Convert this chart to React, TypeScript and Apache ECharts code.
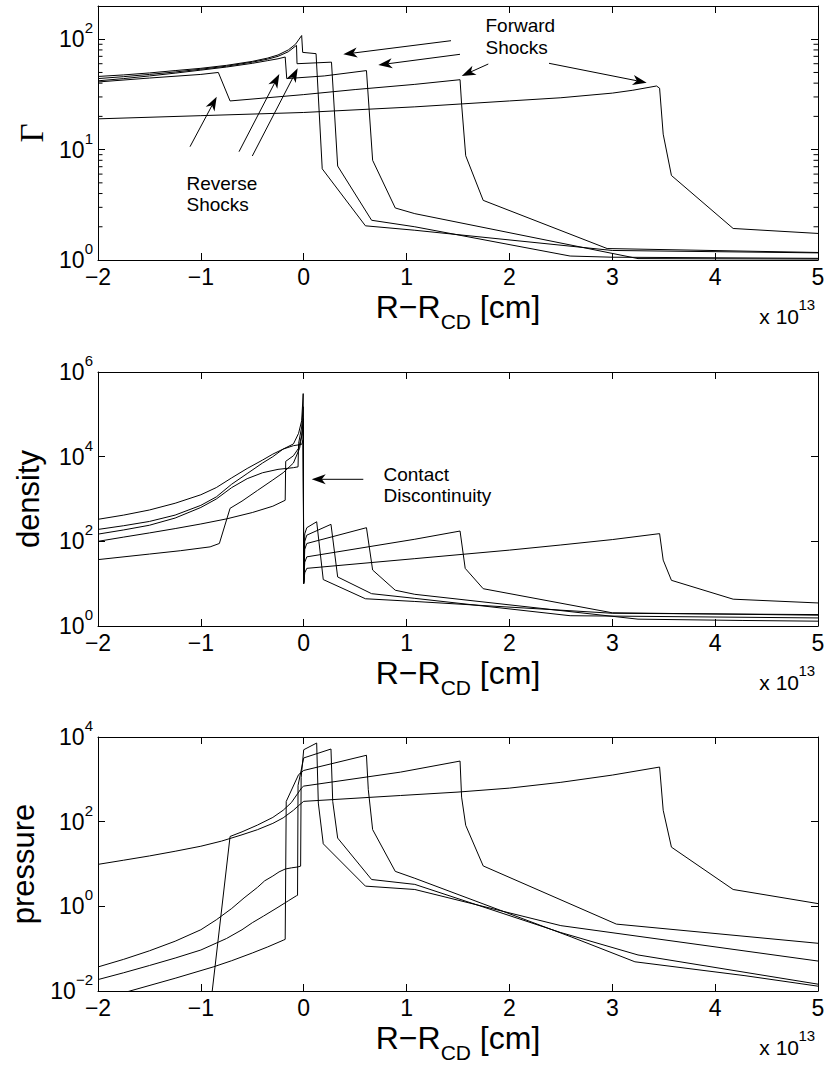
import React, { useEffect, useRef } from "react";
import * as echarts from "echarts";

type Pt = [number, number];

// ---------- axis ranges ----------
const xMin = -2;
const xMax = 5;
const xStep = 1;

// ---------- Lorentz factor Γ (five snapshots A..E) ----------
const gammaA: Pt[] = [[-2, 46], [-1.75, 47.5], [-1.5, 49.5], [-1.25, 52], [-1, 54.5], [-0.75, 58], [-0.5, 63], [-0.35, 67.5], [-0.25, 72], [-0.15, 80], [-0.08, 90], [-0.02, 108], [-0.01, 76], [0.12, 74], [0.18, 6.7], [0.6, 2.04], [1.08, 1.86], [3.0, 1.22], [5, 1.16]];
const gammaB: Pt[] = [[-2, 44], [-1.75, 45.8], [-1.5, 48], [-1.25, 50.5], [-1, 53.5], [-0.75, 57], [-0.5, 62], [-0.35, 66], [-0.25, 70], [-0.15, 77], [-0.07, 88], [-0.065, 60], [0.27, 62], [0.33, 7.1], [0.66, 2.29], [1.08, 2.0], [2.59, 1.086], [3.0, 1.06], [5, 1.035]];
const gammaC: Pt[] = [[-2, 42], [-1.75, 44], [-1.5, 46.5], [-1.25, 49.3], [-1, 52.5], [-0.75, 56], [-0.5, 60.5], [-0.35, 64], [-0.25, 66.5], [-0.18, 69], [-0.165, 44], [0.2, 46.5], [0.61, 52], [0.67, 8], [0.89, 2.96], [1.08, 2.63], [3.25, 1.03], [5, 1.02]];
const gammaD: Pt[] = [[-2, 41], [-1.5, 44.5], [-1, 48], [-0.83, 50], [-0.716, 27.6], [0, 31.5], [0.5, 35], [1.08, 39], [1.52, 43], [1.535, 25.8], [1.575, 8.8], [1.745, 3.47], [2.95, 1.27], [5, 1.17]];
const gammaE: Pt[] = [[-2, 19], [-1, 20.3], [0, 21.7], [1.08, 24.4], [2, 27.6], [2.5, 29.5], [3, 32.5], [3.2, 34.5], [3.43, 37.7], [3.46, 36], [3.495, 13.8], [3.575, 5.83], [4.175, 1.93], [5, 1.74]];

// ---------- density ----------
const densA: Pt[] = [[-2, 191], [-1.75, 234], [-1.5, 295], [-1.25, 417], [-1, 708], [-0.85, 1120], [-0.7, 2240], [-0.55, 3980], [-0.4, 7080], [-0.3, 10000], [-0.2, 15100], [-0.1, 20000], [-0.05, 35500], [-0.02, 70800], [-0.005, 309000], [0, 10], [0.01, 150], [0.03, 210], [0.126, 290], [0.19, 12.5], [0.6, 4.4], [1.08, 3.8], [3.0, 2.0], [5, 1.86]];
const densB: Pt[] = [[-2, 148], [-1.75, 186], [-1.5, 240], [-1.25, 355], [-1, 631], [-0.85, 1000], [-0.7, 1860], [-0.55, 3020], [-0.4, 4170], [-0.25, 5010], [-0.1, 5500], [-0.055, 5750], [-0.05, 20400], [-0.02, 50100], [-0.005, 151000], [0, 10.5], [0.01, 100], [0.03, 140], [0.265, 252], [0.33, 14.4], [0.66, 5.8], [1.08, 4.5], [2.59, 1.75], [5, 1.55]];
const densC: Pt[] = [[-2, 100], [-1.75, 126], [-1.5, 158], [-1.25, 200], [-1, 257], [-0.75, 339], [-0.5, 479], [-0.3, 676], [-0.18, 933], [-0.175, 7760], [-0.1, 10500], [-0.05, 15800], [-0.02, 31600], [-0.005, 79400], [0, 11], [0.01, 65], [0.03, 89], [0.61, 210], [0.67, 21], [0.89, 7], [1.08, 5.6], [3.25, 1.45], [4.27, 1.35], [5, 1.3]];
const densD: Pt[] = [[-2, 37], [-1.5, 50], [-1.2, 60], [-0.91, 74], [-0.82, 89], [-0.716, 603], [-0.6, 891], [-0.45, 1590], [-0.3, 2820], [-0.2, 4170], [-0.1, 7080], [-0.04, 15800], [-0.005, 50100], [0, 12], [0.01, 32], [0.03, 43], [1.08, 112], [1.52, 175], [1.57, 23], [1.745, 7.6], [3.0, 2.05], [5, 1.8]];
const densE: Pt[] = [[-2, 331], [-1.75, 417], [-1.5, 550], [-1.25, 794], [-1, 1260], [-0.85, 1860], [-0.7, 3160], [-0.55, 5250], [-0.4, 8320], [-0.3, 11500], [-0.2, 15100], [-0.1, 18200], [-0.02, 19500], [-0.005, 25000], [0, 10], [0.01, 18], [0.03, 23], [1.08, 39], [2, 62], [2.5, 82], [3, 110], [3.46, 152], [3.495, 36], [3.575, 12], [4.175, 4.3], [5, 3.5]];

// ---------- pressure ----------
const presA: Pt[] = [[-2, 0.037], [-1.75, 0.056], [-1.5, 0.089], [-1.25, 0.15], [-1, 0.28], [-0.85, 0.48], [-0.7, 0.89], [-0.58, 1.58], [-0.45, 2.8], [-0.38, 4.0], [-0.3, 5.2], [-0.24, 6.5], [-0.18, 7.6], [-0.12, 8.1], [-0.06, 8.5], [-0.03, 8.9], [-0.025, 1100], [0, 5000], [0.126, 7200], [0.142, 275], [0.19, 30], [0.6, 3.0], [1.08, 2.5], [2.5, 0.35], [5, 0.051]];
const presB: Pt[] = [[-2, 0.0186], [-1.75, 0.027], [-1.5, 0.04], [-1.25, 0.06], [-1, 0.093], [-0.75, 0.174], [-0.6, 0.28], [-0.5, 0.41], [-0.39, 0.59], [-0.25, 0.95], [-0.15, 1.35], [-0.07, 1.78], [-0.06, 1.82], [-0.055, 720], [0, 3200], [0.265, 5200], [0.282, 300], [0.33, 41], [0.66, 4.3], [1.08, 3.3], [2.5, 0.24], [3.25, 0.071], [5, 0.0145]];
const presC: Pt[] = [[-2, 0.006], [-1.69, 0.01], [-1.25, 0.02], [-0.88, 0.037], [-0.7, 0.052], [-0.5, 0.079], [-0.35, 0.11], [-0.2, 0.158], [-0.18, 0.166], [-0.17, 300], [-0.05, 1290], [0, 1620], [0.61, 3700], [0.628, 570], [0.67, 65], [0.89, 6.7], [1.08, 4.6], [2.6, 0.19], [3.22, 0.049], [4.29, 0.023], [5, 0.013]];
const presD: Pt[] = [[-2, 0.0001], [-0.93, 0.0014], [-0.716, 44.7], [-0.6, 57.5], [-0.45, 83], [-0.3, 126], [-0.2, 186], [-0.12, 282], [-0.06, 457], [-0.02, 631], [0, 692], [0.94, 1480], [1.52, 2700], [1.535, 380], [1.575, 82], [1.745, 9], [3.04, 0.38], [5, 0.134]];
const presE: Pt[] = [[-2, 9.8], [-1.75, 12.3], [-1.5, 15.5], [-1.25, 20], [-1, 26.3], [-0.8, 34.7], [-0.6, 49], [-0.45, 64.6], [-0.3, 91.2], [-0.2, 123], [-0.1, 186], [-0.05, 240], [0, 302], [0.94, 415], [1.5, 500], [2, 620], [2.5, 850], [3, 1260], [3.46, 1950], [3.495, 186], [3.575, 25], [4.175, 2.5], [5, 1.16]];

// minor ticks of the Γ panel (2..9 per decade)
const gammaMinorTicks = [2, 3, 4, 5, 6, 7, 8, 9, 20, 30, 40, 50, 60, 70, 80, 90];

// ---------- text ----------
const xAxisTitle = "{a|R−R}{s|CD}{a| [cm]}";
const xScaleText = "x 10";
const xScaleExp = "13";
const annotations = {
  forward: ["Forward", "Shocks"],
  reverse: ["Reverse", "Shocks"],
  contact: ["Contact", "Discontinuity"],
};

// ---------- layout / styles ----------
const SANS = '"Liberation Sans", Arial, Helvetica, sans-serif';
const SERIF = '"Liberation Serif", "DejaVu Serif", serif';
const GRID_LEFT = 98;
const GRID_W = 720;
const GRID_H = 254;
const GRID_TOPS = [6, 372, 737];

const panels = [
  { name: "Γ", nameFont: SERIF, nameSize: 33, nameGap: 50, min: 1, max: 200, logBase: 10, minor: gammaMinorTicks, series: [gammaA, gammaB, gammaC, gammaD, gammaE] },
  { name: "density", nameFont: SANS, nameSize: 31, nameGap: 54, min: 1, max: 1e6, logBase: 100, minor: null, series: [densA, densB, densC, densD, densE] },
  { name: "pressure", nameFont: SANS, nameSize: 31, nameGap: 59, min: 0.01, max: 1e4, logBase: 100, minor: null, series: [presA, presB, presC, presD, presE] },
];

const black = { color: "#000", width: 1 };

function fmtX(v: number) {
  return v < 0 ? "−" + Math.abs(v) : String(v);
}
function fmtY(v: number) {
  const l = Math.log10(v);
  const e = Math.round(l);
  if (Math.abs(l - e) > 1e-6) return "";
  return `{b|10}{e|${e < 0 ? "−" + -e : e}}`;
}

function arrow(tx: number, ty: number, hx: number, hy: number) {
  const dx = hx - tx;
  const dy = hy - ty;
  const len = Math.hypot(dx, dy);
  const ux = dx / len;
  const uy = dy / len;
  const nx = -uy;
  const ny = ux;
  const L = 14;
  const W = 5;
  const bx = hx - ux * L;
  const by = hy - uy * L;
  const mx = hx - ux * L * 0.72;
  const my = hy - uy * L * 0.72;
  return [
    { type: "line", silent: true, shape: { x1: tx, y1: ty, x2: mx, y2: my }, style: { stroke: "#000", lineWidth: 1 } },
    {
      type: "polygon",
      silent: true,
      shape: { points: [[hx, hy], [bx + nx * W, by + ny * W], [mx, my], [bx - nx * W, by - ny * W]] },
      style: { fill: "#000" },
    },
  ];
}

function text(str: string, x: number, y: number, size: number, align: string) {
  return {
    type: "text",
    silent: true,
    x,
    y,
    style: {
      text: str,
      fontSize: size,
      fontFamily: SANS,
      fill: "#000",
      align,
      textAlign: align,
      verticalAlign: "middle",
      textVerticalAlign: "middle",
    },
  };
}

function buildOption() {
  const grid: any[] = [];
  const xAxis: any[] = [];
  const yAxis: any[] = [];
  const series: any[] = [];
  const graphic: any[] = [];

  panels.forEach((p, i) => {
    const top = GRID_TOPS[i];
    const bottom = top + GRID_H;
    grid.push({ left: GRID_LEFT, top, width: GRID_W, height: GRID_H, outerBoundsMode: "none", containLabel: false });

    const xi = xAxis.length;
    xAxis.push({
      gridIndex: i,
      type: "value",
      position: "bottom",
      min: xMin,
      max: xMax,
      interval: xStep,
      axisLine: { show: true, onZero: false, lineStyle: black },
      axisTick: { show: true, inside: true, length: 7, lineStyle: black },
      axisLabel: { show: true, margin: 8, lineHeight: 18, fontSize: 23, fontFamily: SANS, color: "#000", formatter: fmtX },
      splitLine: { show: false },
      name: xAxisTitle,
      nameLocation: "middle",
      nameGap: 30.5,
      nameMoveOverlap: false,
      nameTextStyle: {
        rich: {
          a: { fontSize: 32, lineHeight: 24, verticalAlign: "top", fontFamily: SANS, color: "#000" },
          s: { fontSize: 21, lineHeight: 62, verticalAlign: "middle", fontFamily: SANS, color: "#000" },
        },
      },
    });
    xAxis.push({
      gridIndex: i,
      type: "value",
      position: "top",
      min: xMin,
      max: xMax,
      interval: xStep,
      axisLine: { show: true, onZero: false, lineStyle: black },
      axisTick: { show: true, inside: true, length: 7, lineStyle: black },
      axisLabel: { show: false },
      splitLine: { show: false },
    });

    const yi = yAxis.length;
    yAxis.push({
      gridIndex: i,
      type: "log",
      logBase: p.logBase,
      min: p.min,
      max: p.max,
      position: "left",
      axisLine: { show: true, onZero: false, lineStyle: black },
      axisTick: { show: true, inside: true, length: 7, lineStyle: black },
      axisLabel: {
        show: true,
        margin: 5,
        formatter: fmtY,
        rich: {
          b: { fontSize: 23, lineHeight: 38, verticalAlign: "middle", fontFamily: SANS, color: "#000" },
          e: { fontSize: 15, lineHeight: 15, verticalAlign: "top", fontFamily: SANS, color: "#000" },
        },
      },
      splitLine: { show: false },
      name: p.name,
      nameLocation: "middle",
      nameGap: p.nameGap,
      nameMoveOverlap: false,
      nameTextStyle: { fontSize: p.nameSize, fontFamily: p.nameFont, color: "#000" },
    });
    yAxis.push({
      gridIndex: i,
      type: "log",
      logBase: p.logBase,
      min: p.min,
      max: p.max,
      position: "right",
      axisLine: { show: true, onZero: false, lineStyle: black },
      axisTick: { show: true, inside: true, length: 7, lineStyle: black },
      axisLabel: { show: false },
      splitLine: { show: false },
    });

    p.series.forEach((data) => {
      series.push({
        type: "line",
        xAxisIndex: xi,
        yAxisIndex: yi,
        data,
        symbol: "none",
        showSymbol: false,
        clip: true,
        lineStyle: { color: "#000", width: 1 },
        itemStyle: { color: "#000" },
        emphasis: { disabled: true },
        z: 3,
      });
    });

    if (p.minor) {
      // minor log ticks on both vertical edges, placed through the log axis
      series.push({
        type: "custom",
        xAxisIndex: xi,
        yAxisIndex: yi,
        silent: true,
        clip: false,
        data: p.minor.map((v) => [xMin, v]),
        renderItem: (_params: any, api: any) => {
          const v = api.value(1);
          const l = api.coord([xMin, v]);
          const r = api.coord([xMax, v]);
          return {
            type: "group",
            children: [
              { type: "line", shape: { x1: l[0], y1: l[1], x2: l[0] + 4.5, y2: l[1] }, style: { stroke: "#000", lineWidth: 1 } },
              { type: "line", shape: { x1: r[0] - 4.5, y1: r[1], x2: r[0], y2: r[1] }, style: { stroke: "#000", lineWidth: 1 } },
            ],
          };
        },
        z: 4,
      });
    }

    graphic.push(text(xScaleText, 799, bottom + 56.8, 21, "right"));
    graphic.push(text(xScaleExp, 798.5, bottom + 44.3, 15, "left"));
  });

  // annotations (pixel layout)
  graphic.push(...arrow(451, 40.7, 343.3, 54.3));
  graphic.push(...arrow(460, 54.3, 378.3, 65));
  graphic.push(...arrow(488.3, 64, 461.7, 76));
  graphic.push(...arrow(549, 63.3, 646.7, 82.7));
  graphic.push(...arrow(190, 146.7, 216.7, 96.7));
  graphic.push(...arrow(239, 151.7, 279.3, 74));
  graphic.push(...arrow(252.3, 156, 297.7, 68.3));
  graphic.push(...arrow(363.3, 479.3, 311.7, 479.3));

  graphic.push(text(annotations.forward[0], 485.5, 25.2, 19, "left"));
  graphic.push(text(annotations.forward[1], 485.5, 47.5, 19, "left"));
  graphic.push(text(annotations.reverse[0], 186.5, 183.5, 19, "left"));
  graphic.push(text(annotations.reverse[1], 186.5, 204.5, 19, "left"));
  graphic.push(text(annotations.contact[0], 383.5, 474.5, 19, "left"));
  graphic.push(text(annotations.contact[1], 383.5, 495, 19, "left"));

  return {
    animation: false,
    backgroundColor: "#fff",
    grid,
    xAxis,
    yAxis,
    series,
    graphic: { elements: graphic },
  };
}

export default function App() {
  const ref = useRef<HTMLDivElement>(null);
  useEffect(() => {
    document.body.style.margin = "0";
    const chart = echarts.init(ref.current as HTMLDivElement, undefined, { renderer: "svg" });
    chart.setOption(buildOption() as any);
    return () => chart.dispose();
  }, []);
  return <div ref={ref} style={{ width: 830, height: 1069 }} />;
}
